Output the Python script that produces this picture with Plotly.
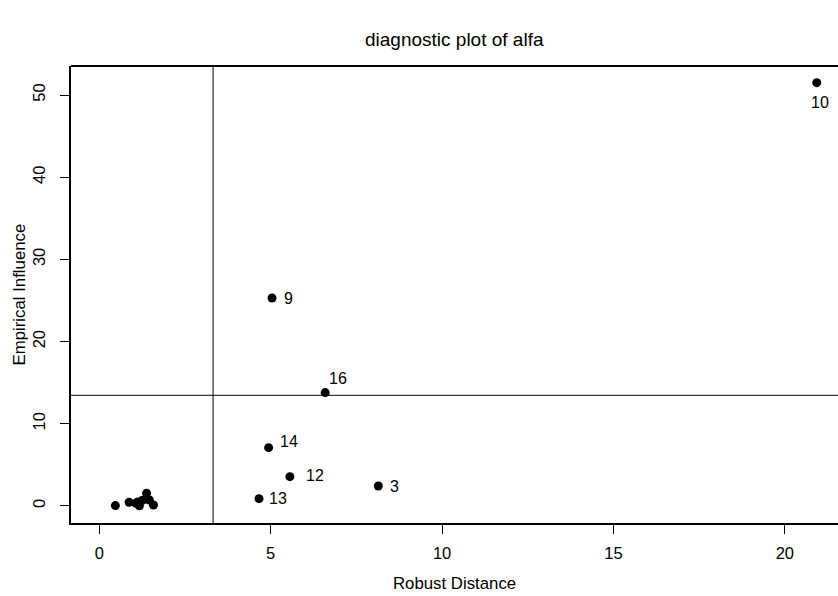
import plotly.graph_objects as go

# Observations 1..16
obs_id = [str(i) for i in range(1, 17)]
robust_distance = [0.87, 1.07, 8.14, 1.17, 1.38, 1.46, 0.47, 1.58,
                   5.04, 20.93, 1.26, 5.56, 4.66, 4.94, 1.12, 6.59]
empirical_influence = [0.45, 0.33, 2.43, 0.02, 1.55, 0.73, 0.05, 0.12,
                       25.3, 51.5, 0.70, 3.57, 0.89, 7.10, 0.50, 13.8]
labeled = ["3", "9", "10", "12", "13", "14", "16"]
rd_cutoff = 3.32
ei_cutoff = 13.47

x_ticks = [0, 5, 10, 15, 20]
y_ticks = [0, 10, 20, 30, 40, 50]

FONT = "Liberation Sans, Arial, sans-serif"

fig = go.Figure()
fig.add_trace(go.Scatter(
    x=robust_distance, y=empirical_influence, mode="markers",
    marker=dict(size=9, color="black"), hoverinfo="skip", showlegend=False))

# label offsets (px) per labelled point: (xshift, yshift, xanchor)
offsets = {"3": (10, 0, "left"), "9": (10, 0, "left"), "10": (3, -20, "center"),
           "12": (14, 1, "left"), "13": (8, 0, "left"), "14": (9, 6, "left"),
           "16": (2, 14, "left")}
for i, lab in enumerate(obs_id):
    if lab in labeled:
        dx, dy, xa = offsets[lab]
        fig.add_annotation(x=robust_distance[i], y=empirical_influence[i], text=lab,
                           showarrow=False, xanchor=xa, yanchor="middle",
                           xshift=dx, yshift=dy,
                           font=dict(family=FONT, size=16, color="black"))

fig.add_shape(type="line", xref="x", yref="paper", x0=rd_cutoff, x1=rd_cutoff, y0=0, y1=1,
              line=dict(color="black", width=1))
fig.add_shape(type="line", xref="paper", yref="y", x0=0, x1=1, y0=ei_cutoff, y1=ei_cutoff,
              line=dict(color="black", width=1))
# top border of the box
fig.add_shape(type="line", xref="paper", yref="paper", x0=0, x1=1, y0=1, y1=1,
              line=dict(color="black", width=2))

fig.add_annotation(xref="paper", yref="paper", x=0.5, y=0, yanchor="middle", yshift=-60,
                   text="Robust Distance", showarrow=False,
                   font=dict(family=FONT, size=16.8, color="black"))
fig.add_annotation(xref="paper", yref="paper", x=0, y=0.5, xanchor="center", xshift=-52,
                   text="Empirical Influence", showarrow=False, textangle=-90,
                   font=dict(family=FONT, size=16.8, color="black"))
fig.add_annotation(xref="paper", yref="paper", x=0.5, y=1, yanchor="middle", yshift=27,
                   text="diagnostic plot of alfa", showarrow=False,
                   font=dict(family=FONT, size=19, color="black"))

fig.update_xaxes(range=[-0.825, 21.55], tickvals=x_ticks, ticktext=[str(v) for v in x_ticks],
                 ticks="outside", ticklen=9, tickcolor="black", tickwidth=1,
                 showline=True, linecolor="black", linewidth=2, showgrid=False,
                 zeroline=False, ticklabelstandoff=5,
                 tickfont=dict(family=FONT, size=16.5, color="black"))
fig.update_yaxes(range=[-2.07, 53.53], tickvals=y_ticks, ticktext=[str(v) for v in y_ticks],
                 ticks="outside", ticklen=9, tickcolor="black", tickwidth=1,
                 showline=True, linecolor="black", linewidth=2, showgrid=False,
                 zeroline=False, tickangle=-90, ticklabelstandoff=8,
                 tickfont=dict(family=FONT, size=16.5, color="black"))

fig.update_layout(width=838, height=596, margin=dict(l=71, r=0, t=66, b=73),
                  plot_bgcolor="white", paper_bgcolor="white",
                  font=dict(family=FONT, color="black"))

fig.write_html("out.html")
